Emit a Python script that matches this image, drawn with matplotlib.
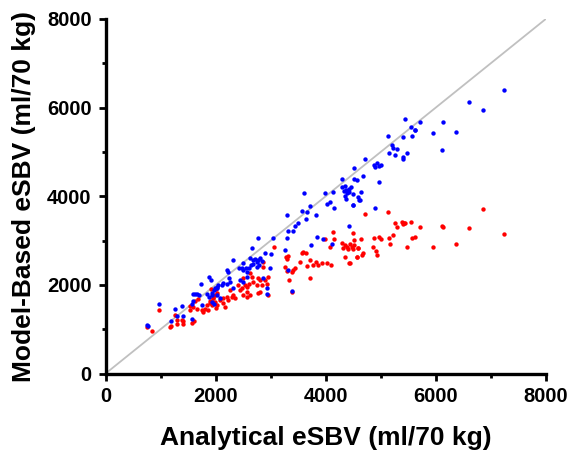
import matplotlib.pyplot as plt
from matplotlib.ticker import MultipleLocator

plt.rcParams['font.family'] = ['Liberation Sans', 'DejaVu Sans']
plt.rcParams['font.weight'] = 'bold'

# blue series (x = analytical eSBV, y = model-based eSBV)
blue_x = [757, 770, 975, 1260, 1381, 1193, 1400, 1563, 1727, 1593, 1623, 1654, 1702, 1569, 1593,
          1745, 1884, 1909, 1836, 1884, 1927, 1969, 2018, 2047, 1927, 1969, 1302,
          2763, 3047, 2654, 2896, 3000, 2309,
          2623, 2672, 2714, 2745, 2775, 2805, 2836, 2792, 2745, 2684, 2636, 2611, 2551, 2502, 2472,
          2211, 2229, 2429, 2502, 2563, 2563, 2987, 2865, 2247, 2260, 2211, 2138, 2109, 2018, 1987,
          2320, 2442, 2491, 1927, 2018, 2078, 2938, 3320, 2927,
          4018, 4078, 4151, 4502, 4611, 3290, 3563, 3654, 3714, 3823, 3641, 3502, 3441, 3320, 3399,
          3290, 3836, 3945, 4109, 3727, 3260, 4429, 3381,
          5138, 5411, 5563, 5623, 5200, 5229, 5290, 5156, 5260, 5400, 5400, 5484, 4714, 4878, 4927,
          4963, 5011, 4896, 4514, 4683, 4296, 4514, 4574, 4969, 4290, 4351, 4363, 4393, 4420, 4460,
          4330, 4420, 4636, 4502, 4593, 4623, 4351, 4363, 4502, 3605, 3987, 4127, 4896,
          7247, 6605, 6854, 5436, 6127, 5714, 5545, 5618, 5945, 6369, 6109]
blue_y = [1101, 1072, 1575, 1456, 1516, 1185, 1291, 1237, 2020, 1801, 1801, 1801, 1765, 1575, 1630,
          1539, 2178, 2103, 1801, 1727, 1765, 1878, 1952, 1991, 1614, 1575, 1298,
          3051, 3051, 2826, 2713, 2690, 2562,
          2614, 2562, 2584, 2523, 2562, 2600, 2539, 2449, 2410, 2465, 2449, 2374, 2374, 2487, 2374,
          2336, 2298, 2374, 2336, 2298, 2185, 2388, 2149, 2149, 2072, 2013, 2036, 1997, 1937, 1923,
          1937, 2110, 2072, 1810, 1772, 1697, 1923, 2336, 1794,
          3826, 3878, 3729, 3803, 3916, 3584, 3675, 3652, 3781, 3584, 3487, 3404, 3329, 3216, 3216,
          3051, 3074, 3036, 2923, 2900, 2787, 3329, 1869,
          5360, 5331, 5360, 5494, 5157, 5083, 5060, 4984, 4932, 4893, 4834, 4984, 4834, 4706, 4744,
          4683, 4706, 4667, 4631, 4458, 4383, 4383, 4367, 4315, 4200, 4232, 4140, 4081, 4170, 4200,
          4110, 4096, 4096, 4051, 3991, 3916, 4006, 3931, 3803, 4081, 4066, 4103, 3729,
          6399, 6121, 5947, 5737, 5683, 5683, 5570, 5495, 5421, 5451, 5044]

# red series
red_x = [757, 842, 975, 1260, 1291, 1291, 1393, 1411, 1400, 1569, 1623, 1684, 1581, 1654, 1745,
         1805, 1836, 1896, 1945, 1987, 2018, 1914, 2005, 1775, 1865, 1611, 1182, 1169, 1533, 1533,
         3065, 3278, 2865, 2854, 2956, 2896, 2805, 2775, 2745, 2836, 2927, 2623, 2654, 2672, 2611,
         2502, 2532, 2563, 2472, 2411, 2442,
         2260, 2320, 2291, 2351, 2200, 2229, 2138, 2078, 1987, 1896, 1956, 1927, 2018, 2005, 2138, 2169,
         2502, 2563, 2623, 2575, 2805, 2775, 2956,
         4127, 4490, 3987, 4151, 4078, 4514,
         4290, 4351, 4382, 4442, 4473, 4411, 4320, 4491, 4351, 4442, 4575, 4593,
         3593, 3641, 3563, 3320, 3290, 3532, 3714, 3823, 3865, 3927, 4018, 4090, 3654, 3774, 3714,
         3260, 3302, 3411, 3441, 3381, 3338, 3381,
         5138, 4714, 5260, 5290, 5381, 5411, 5423, 5545, 5714, 5217, 5156, 5169, 4969, 5000, 4878,
         4854, 4914, 4939, 5563, 5623, 5484, 4514, 4636, 4593, 4683, 4654, 4563, 4429,
         6854, 6109, 6127, 6605, 7247, 5945, 6369, 5440]
red_y = [1043, 952, 1426, 1327, 1201, 1124, 1214, 1178, 1117, 1147, 1630, 1675, 1503, 1463, 1426,
         1463, 1539, 1630, 1704, 1765, 1824, 1914, 1914, 1388, 1426, 1185, 1072, 1043, 1523, 1433,
         2862, 2636, 2523, 2410, 2185, 2110, 2110, 2149, 1997, 1997, 2013, 2261, 2185, 2072, 2013,
         2149, 1997, 1959, 1923, 1997, 1885,
         1885, 1772, 1733, 1697, 1733, 1659, 1697, 1659, 1620, 1584, 1697, 1546, 1546, 1485, 1584, 1506,
         1772, 1733, 1772, 1846, 1846, 1810, 1772,
         3200, 3164, 3029, 3029, 2862, 3013,
         2939, 2900, 2862, 2923, 2862, 2803, 2826, 2803, 2623, 2487, 2636, 2826,
         2749, 2727, 2727, 2652, 2577, 2523, 2562, 2523, 2449, 2501, 2501, 2449, 2426, 2442, 2162,
         2410, 2320, 2336, 2374, 2298, 2110, 1833,
         3652, 3600, 3390, 3314, 3426, 3374, 3404, 3426, 3314, 3126, 3051, 2923, 3074, 3029, 3051,
         2862, 2772, 2675, 3051, 3074, 2862, 2900, 3029, 2826, 2713, 2675, 2636, 2487,
         3706, 3336, 3300, 3291, 3142, 2848, 2930, 3400]

fig = plt.figure(figsize=(5.71, 4.5), dpi=100)
ax = fig.add_axes([0.185, 0.17, 0.771, 0.788])

ax.plot([0, 8000], [0, 8000], color='#c0c0c0', linewidth=1.3, zorder=1)
ax.scatter(red_x, red_y, s=10, color='#ff0000', linewidths=0, zorder=2)
ax.scatter(blue_x, blue_y, s=10, color='#0000ff', linewidths=0, zorder=3)

ax.set_xlim(0, 8000)
ax.set_ylim(0, 8000)
ax.xaxis.set_major_locator(MultipleLocator(2000))
ax.yaxis.set_major_locator(MultipleLocator(2000))
ax.xaxis.set_minor_locator(MultipleLocator(1000))
ax.yaxis.set_minor_locator(MultipleLocator(1000))

for side in ['top', 'right']:
    ax.spines[side].set_visible(False)
for side in ['left', 'bottom']:
    ax.spines[side].set_linewidth(2.4)
ax.tick_params(which='major', length=5, width=2, labelsize=14.5, pad=5)
ax.tick_params(which='minor', length=3, width=2)
for lbl in ax.get_xticklabels() + ax.get_yticklabels():
    lbl.set_fontweight('bold')

ax.set_xlabel('Analytical eSBV (ml/70 kg)', fontsize=19, fontweight='bold', labelpad=14)
ax.set_ylabel('Model-Based eSBV (ml/70 kg)', fontsize=19, fontweight='bold', labelpad=8)

plt.savefig('out.png', dpi=100)
